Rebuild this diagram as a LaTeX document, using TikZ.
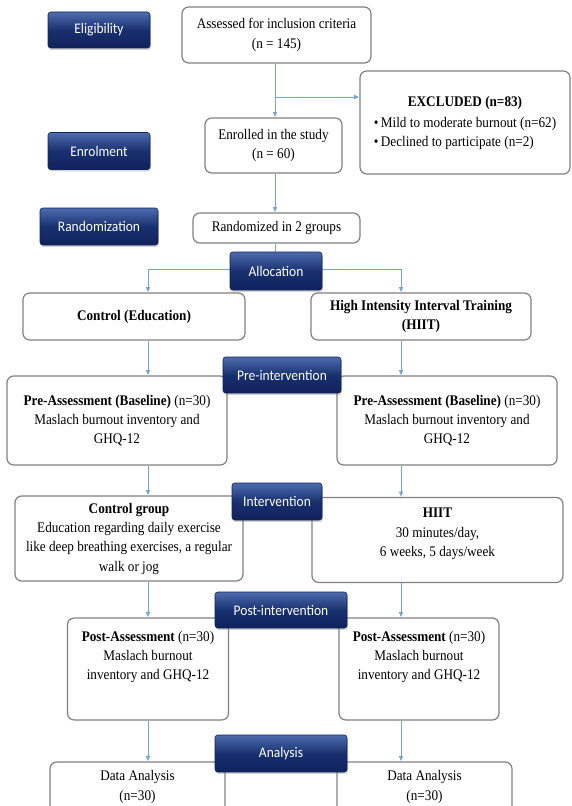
\documentclass[tikz,border=0pt]{standalone}
\usepackage{fontspec}
\setmainfont{Liberation Serif}[FakeStretch=0.9]
\newfontfamily\stagefont{Carlito}[FakeStretch=0.92]
\usetikzlibrary{arrows.meta}
\usetikzlibrary{shadows}
\definecolor{navtop}{RGB}{78,108,172}
\definecolor{navmid}{RGB}{24,48,112}
\definecolor{navbot}{RGB}{16,34,92}
\definecolor{boxline}{RGB}{128,128,128}
\definecolor{linkblue}{RGB}{120,164,210}

\tikzset{
  stage/.style={rectangle, rounded corners=2pt, top color=navtop,
    bottom color=navbot, middle color=navmid, draw=navbot, text=white,
    font=\stagefont\fontsize{11}{13}\selectfont, inner sep=0pt,
    drop shadow={shadow xshift=0.6pt, shadow yshift=-1.4pt, opacity=0.35}},
  box/.style={rectangle, rounded corners=5pt, draw=boxline, line width=0.9pt,
    fill=white, align=center, font=\fontsize{11}{14.5}\selectfont, inner sep=2pt},
  link/.style={draw=linkblue, line width=0.6pt, -{Latex[length=4pt,width=3.5pt]}},
  wire/.style={draw=linkblue, line width=0.6pt}
}

\begin{document}
\begin{tikzpicture}[x=0.75pt, y=-0.75pt]
    \useasboundingbox (0,0) rectangle (571,806);
    \clip (0,0) rectangle (571,806);

    % lanes of the flow
    \coordinate (spine) at (275,0);
    \coordinate (lanel) at (148,0);
    \coordinate (laner) at (401,0);
    \coordinate (fork) at (275,97);
    \coordinate (split) at (275,269);

    % boxes
    \node[box, minimum width=141.75pt, minimum height=42pt] (assess) at (276.5,35)
      {Assessed for inclusion criteria\\(n = 145)};
    \node[box, minimum width=157.5pt, minimum height=77.25pt] (excl) at (465,122.5)
      {\begin{tabular}{@{}l@{}}
        \multicolumn{1}{@{}c@{}}{\textbf{EXCLUDED (n=83)}}\\[1pt]
        \textbullet\,Mild to moderate burnout (n=62)\\
        \textbullet\,Declined to participate (n=2)
      \end{tabular}};
    \node[box, minimum width=102.75pt, minimum height=41.25pt] (enrolbox) at (273.5,145.5)
      {Enrolled in the study\\(n = 60)};
    \node[box, minimum width=125.25pt, minimum height=22.5pt] (randbox) at (276.5,228)
      {Randomized in 2 groups};

    \node[box, minimum width=166.5pt, minimum height=35.25pt] (ctrl) at (134,316.5)
      {\textbf{Control (Education)}};
    \node[box, minimum width=165pt, minimum height=35.25pt] (hiit) at (421,316.5)
      {\textbf{High Intensity Interval Training}\\\textbf{(HIIT)}};

    \node[box, minimum width=165pt, minimum height=66.75pt] (prel) at (117,420.5)
      {\textbf{Pre-Assessment (Baseline)} (n=30)\\Maslach burnout inventory and\\GHQ-12};
    \node[box, minimum width=165pt, minimum height=66.75pt] (prer) at (447,420.5)
      {\textbf{Pre-Assessment (Baseline)} (n=30)\\Maslach burnout inventory and\\GHQ-12};

    \node[box, minimum width=171pt, minimum height=63.75pt] (grpl) at (129,538.5)
      {\textbf{Control group}\\Education regarding daily exercise\\like deep breathing exercises, a regular\\walk or jog};
    \node[box, minimum width=188.25pt, minimum height=63.75pt] (grpr) at (437.5,540)
      {\textbf{HIIT}\\30 minutes/day,\\6 weeks, 5 days/week\\[-3pt]~};

    \node[box, minimum width=120.75pt, minimum height=76.5pt] (postl) at (148,669)
      {\textbf{Post-Assessment} (n=30)\\Maslach burnout\\inventory and GHQ-12\\[6pt]~};
    \node[box, minimum width=120pt, minimum height=76.5pt] (postr) at (419,669)
      {\textbf{Post-Assessment} (n=30)\\Maslach burnout\\inventory and GHQ-12\\[6pt]~};

    \node[box, minimum width=131.25pt, minimum height=37.5pt] (datal) at (137.5,787)
      {Data Analysis\\(n=30)};
    \node[box, minimum width=131.25pt, minimum height=37.5pt] (datar) at (424.5,787)
      {Data Analysis\\(n=30)};

    % connectors
    \draw[link] (assess.south -| spine) -- (enrolbox.north -| spine);
    \draw[link] (fork) -- (fork -| excl.west);
    \draw[link] (enrolbox.south -| spine) -- (randbox.north -| spine);
    \draw[wire] (randbox.south -| spine) -- (split);
    \draw[link] (split) -| (ctrl.north -| lanel);
    \draw[link] (split) -| (hiit.north -| laner);
    \draw[link] (ctrl.south -| lanel) -- (prel.north -| lanel);
    \draw[link] (hiit.south -| laner) -- (prer.north -| laner);
    \draw[link] (prel.south -| lanel) -- (grpl.north -| lanel);
    \draw[link] (prer.south -| laner) -- (grpr.north -| laner);
    \draw[link] (grpl.south -| lanel) -- (postl.north -| lanel);
    \draw[link] (grpr.south -| laner) -- (postr.north -| laner);
    \draw[link] (postl.south -| lanel) -- (datal.north -| lanel);
    \draw[link] (postr.south -| laner) -- (datar.north -| laner);

    % stage labels
    \node[stage, minimum width=76.5pt, minimum height=27pt] (elig) at (99,30) {Eligibility};
    \node[stage, minimum width=76.5pt, minimum height=27.75pt] (enrol) at (99,151) {Enrolment};
    \node[stage, minimum width=88.5pt, minimum height=27.75pt] (rand) at (99,226.5) {Randomization};
    \node[stage, minimum width=69pt, minimum height=28.5pt] (alloc) at (276,271) {Allocation};
    \node[stage, minimum width=88.5pt, minimum height=27pt] (preint) at (282,375) {Pre-intervention};
    \node[stage, minimum width=67.5pt, minimum height=27.75pt] (interv) at (277,501.5) {Intervention};
    \node[stage, minimum width=99pt, minimum height=27pt] (postint) at (281,610) {Post-intervention};
    \node[stage, minimum width=99pt, minimum height=27.75pt] (analys) at (281,753.5) {Analysis};

  \end{tikzpicture}
\end{document}
